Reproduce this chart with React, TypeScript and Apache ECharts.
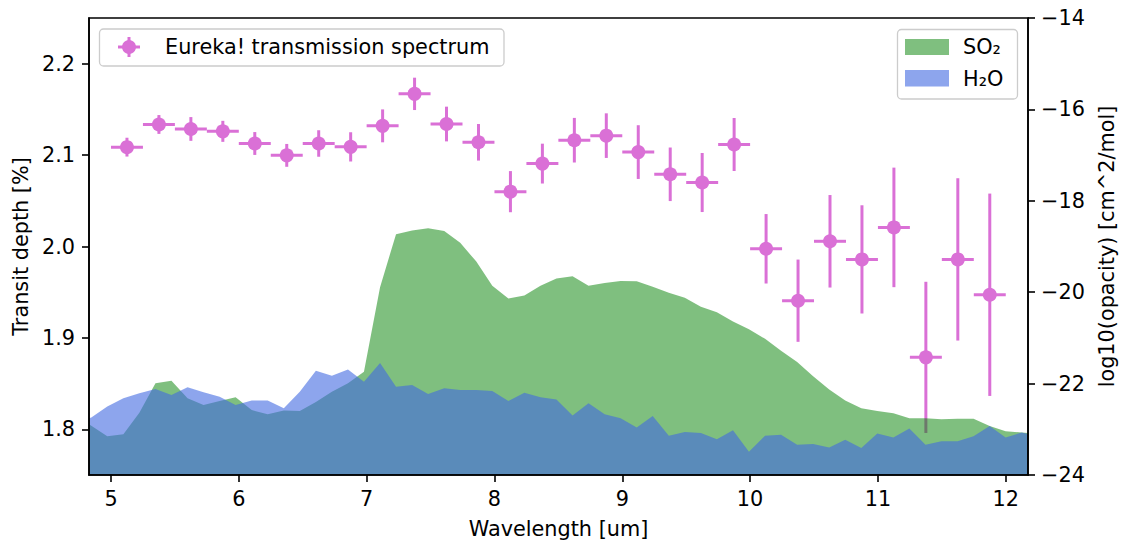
import React, { useEffect, useRef } from "react";
import * as echarts from "echarts";

// ---- Observed transmission spectrum (left axis) ----
const binCenters = [
  5.125, 5.375, 5.625, 5.875, 6.125, 6.375, 6.625, 6.875, 7.125, 7.375,
  7.625, 7.875, 8.125, 8.375, 8.625, 8.875, 9.125, 9.375, 9.625, 9.875,
  10.125, 10.375, 10.625, 10.875, 11.125, 11.375, 11.625, 11.875,
];
const transitDepth = [
  2.1087, 2.1335, 2.1286, 2.126, 2.1127, 2.0997, 2.1127, 2.109, 2.132, 2.167,
  2.134, 2.114, 2.06, 2.0907, 2.1163, 2.1213, 2.1033, 2.079, 2.07, 2.1116,
  1.9975, 1.9407, 2.0057, 1.9859, 2.0209, 1.8787, 1.9859, 1.9472,
];
const depthError = [
  0.0103, 0.0103, 0.013, 0.0115, 0.0125, 0.0125, 0.0145, 0.016, 0.018, 0.0177,
  0.019, 0.02, 0.0225, 0.0218, 0.0244, 0.0244, 0.0294, 0.0293, 0.0323, 0.029,
  0.038, 0.045, 0.0506, 0.0592, 0.0654, 0.0827, 0.0888, 0.1107,
];
const binHalfWidth = 0.125;

// ---- Opacity models (right axis) ----
const modelWavelength = [
  4.72, 4.846, 4.971, 5.097, 5.222, 5.348, 5.473, 5.599, 5.724, 5.85,
  5.975, 6.101, 6.226, 6.352, 6.477, 6.603, 6.728, 6.854, 6.979, 7.105,
  7.23, 7.356, 7.481, 7.607, 7.732, 7.858, 7.983, 8.109, 8.234, 8.36,
  8.485, 8.611, 8.736, 8.862, 8.987, 9.113, 9.238, 9.364, 9.489, 9.615,
  9.74, 9.866, 9.991, 10.117, 10.242, 10.368, 10.493, 10.619, 10.744, 10.87,
  10.995, 11.121, 11.246, 11.372, 11.497, 11.623, 11.748, 11.874, 11.999, 12.125,
  12.25,
];
const so2Opacity = [
  -22.7, -22.92, -23.15, -23.11, -22.64, -21.99, -21.94, -22.32, -22.47, -22.38,
  -22.3, -22.58, -22.67, -22.59, -22.6, -22.4, -22.18, -21.99, -21.74, -19.89,
  -18.73, -18.65, -18.6, -18.66, -18.92, -19.33, -19.86, -20.14, -20.07, -19.86,
  -19.7, -19.65, -19.86, -19.8, -19.755, -19.76, -19.88, -20.01, -20.12, -20.32,
  -20.44, -20.64, -20.81, -21.02, -21.28, -21.53, -21.84, -22.13, -22.37, -22.54,
  -22.6, -22.65, -22.76, -22.76, -22.78, -22.77, -22.77, -22.93, -23.04, -23.07,
  -23.1,
];
const h2oOpacity = [
  -22.85, -22.74, -22.5, -22.32, -22.21, -22.12, -22.25, -22.08, -22.19, -22.29,
  -22.47, -22.37, -22.37, -22.54, -22.18, -21.72, -21.83, -21.69, -21.96, -21.55,
  -22.07, -22.03, -22.23, -22.1, -22.14, -22.14, -22.16, -22.38, -22.2, -22.3,
  -22.35, -22.7, -22.43, -22.67, -22.76, -22.96, -22.71, -23.14, -23.06, -23.08,
  -23.22, -23.02, -23.49, -23.14, -23.12, -23.34, -23.32, -23.4, -23.23, -23.41,
  -23.09, -23.18, -22.98, -23.34, -23.26, -23.26, -23.15, -22.93, -23.18, -23.07,
  -23.16,
];

// ---- Ticks ----
const xTicks = [5, 6, 7, 8, 9, 10, 11, 12];
const depthTicks = [1.8, 1.9, 2.0, 2.1, 2.2];
const opacityTicks = [-24, -22, -20, -18, -16, -14];

const FONT = "DejaVu Sans";
const FS = 20.8;
const ORCHID = "#DA70D6";
const SO2_FILL = "rgba(0,128,0,0.5)";
const H2O_FILL = "rgba(65,105,225,0.6)";

export default function App() {
  const ref = useRef<HTMLDivElement>(null);

  useEffect(() => {
    document.body.style.margin = "0";
    const chart = echarts.init(ref.current!, null, { renderer: "svg" });
    const axisText = { fontFamily: FONT, fontSize: FS, color: "#000" };
    const axisLineStyle = { color: "#000", width: 1.6 };

    const option: any = {
      animation: false,
      backgroundColor: "#fff",
      grid: {
        left: 89,
        right: 93,
        top: 18,
        bottom: 66,
        outerBoundsMode: "none",
        containLabel: false,
        show: true,
        borderColor: "#000",
        borderWidth: 1.6,
        backgroundColor: "transparent",
        z: 10,
      },
      xAxis: {
        type: "value",
        min: 4.828,
        max: 12.174,
        z: 10,
        axisLine: { show: true, onZero: false, lineStyle: axisLineStyle },
        axisTick: { show: true, length: 7, lineStyle: axisLineStyle, customValues: xTicks },
        axisLabel: { ...axisText, margin: 13, customValues: xTicks, formatter: (v: number) => String(v) },
        splitLine: { show: false },
        name: "Wavelength [um]",
        nameLocation: "middle",
        nameGap: 43,
        nameTextStyle: axisText,
      },
      yAxis: [
        {
          type: "value",
          position: "left",
          min: 1.75,
          max: 2.25,
          z: 10,
          axisLine: { show: true, onZero: false, lineStyle: axisLineStyle },
          axisTick: { show: true, length: 7, lineStyle: axisLineStyle, customValues: depthTicks },
          axisLabel: { ...axisText, margin: 14, customValues: depthTicks, formatter: (v: number) => v.toFixed(1) },
          splitLine: { show: false },
          name: "Transit depth [%]",
          nameLocation: "middle",
          nameRotate: 90,
          nameGap: 56,
          nameTextStyle: axisText,
        },
        {
          type: "value",
          position: "right",
          min: -24,
          max: -14,
          interval: 2,
          z: 10,
          axisLine: { show: true, onZero: false, lineStyle: axisLineStyle },
          axisTick: { show: true, length: 7, lineStyle: axisLineStyle, customValues: opacityTicks },
          axisLabel: {
            ...axisText,
            margin: 13,
            customValues: opacityTicks,
            formatter: (v: number) => (v < 0 ? "\u2212" + Math.abs(v) : String(v)),
          },
          splitLine: { show: false },
          name: "log10(opacity) [cm^2/mol]",
          nameLocation: "middle",
          nameRotate: 90,
          nameGap: 68,
          nameTextStyle: axisText,
        },
      ],
      series: [
        {
          type: "custom",
          name: "Eureka! transmission spectrum",
          xAxisIndex: 0,
          yAxisIndex: 0,
          encode: { x: 0, y: 1 },
          data: binCenters.map((x, i) => [x, transitDepth[i], depthError[i]]),
          renderItem: (params: any, api: any) => {
            const x = api.value(0);
            const y = api.value(1);
            const e = api.value(2);
            const c = api.coord([x, y]);
            const top = api.coord([x, y + e]);
            const bot = api.coord([x, y - e]);
            const l = api.coord([x - binHalfWidth, y]);
            const r = api.coord([x + binHalfWidth, y]);
            const style = { stroke: ORCHID, lineWidth: 3, fill: null };
            return {
              type: "group",
              children: [
                { type: "line", shape: { x1: c[0], y1: top[1], x2: c[0], y2: bot[1] }, style },
                { type: "line", shape: { x1: l[0], y1: c[1], x2: r[0], y2: c[1] }, style },
              ],
            };
          },
        },
        {
          type: "scatter",
          xAxisIndex: 0,
          yAxisIndex: 0,
          symbol: "circle",
          symbolSize: 14,
          itemStyle: { color: ORCHID, opacity: 1 },
          data: binCenters.map((x, i) => [x, transitDepth[i]]),
        },
        {
          type: "line",
          name: "SO2",
          xAxisIndex: 0,
          yAxisIndex: 1,
          showSymbol: false,
          symbol: "none",
          clip: true,
          lineStyle: { width: 0, opacity: 0 },
          areaStyle: { color: SO2_FILL, opacity: 1, origin: "start" },
          data: modelWavelength.map((x, i) => [x, so2Opacity[i]]),
        },
        {
          type: "line",
          name: "H2O",
          xAxisIndex: 0,
          yAxisIndex: 1,
          showSymbol: false,
          symbol: "none",
          clip: true,
          lineStyle: { width: 0, opacity: 0 },
          areaStyle: { color: H2O_FILL, opacity: 1, origin: "start" },
          data: modelWavelength.map((x, i) => [x, h2oOpacity[i]]),
        },
      ],
      graphic: [
        // legend: spectrum
        {
          type: "rect",
          z: 100,
          shape: { x: 99.5, y: 29, width: 404.5, height: 37, r: 4 },
          style: { fill: "rgba(255,255,255,0.8)", stroke: "#cccccc", lineWidth: 1.3 },
        },
        {
          type: "line",
          z: 101,
          shape: { x1: 118, y1: 47, x2: 140, y2: 47 },
          style: { stroke: ORCHID, lineWidth: 3 },
        },
        {
          type: "line",
          z: 101,
          shape: { x1: 129, y1: 37, x2: 129, y2: 57 },
          style: { stroke: ORCHID, lineWidth: 3 },
        },
        {
          type: "circle",
          z: 102,
          shape: { cx: 129, cy: 47, r: 7 },
          style: { fill: ORCHID },
        },
        {
          type: "text",
          z: 102,
          x: 165,
          y: 47,
          style: {
            text: "Eureka! transmission spectrum",
            fontFamily: FONT,
            fontSize: FS,
            fill: "#000",
            verticalAlign: "middle",
            align: "left",
          },
        },
        // legend: opacities
        {
          type: "rect",
          z: 100,
          shape: { x: 897.5, y: 29.5, width: 120, height: 69.5, r: 4 },
          style: { fill: "rgba(255,255,255,0.8)", stroke: "#cccccc", lineWidth: 1.3 },
        },
        {
          type: "rect",
          z: 101,
          shape: { x: 905, y: 39, width: 44, height: 16 },
          style: { fill: SO2_FILL },
        },
        {
          type: "rect",
          z: 101,
          shape: { x: 905, y: 70, width: 44, height: 16.5 },
          style: { fill: H2O_FILL },
        },
        {
          type: "text",
          z: 102,
          x: 963,
          y: 47,
          style: { text: "SO\u2082", fontFamily: FONT, fontSize: FS, fill: "#000", verticalAlign: "middle", align: "left" },
        },
        {
          type: "text",
          z: 102,
          x: 963,
          y: 79,
          style: { text: "H\u2082O", fontFamily: FONT, fontSize: FS, fill: "#000", verticalAlign: "middle", align: "left" },
        },
      ],
    };

    chart.setOption(option);
    return () => chart.dispose();
  }, []);

  return <div ref={ref} style={{ width: 1121, height: 541 }} />;
}
